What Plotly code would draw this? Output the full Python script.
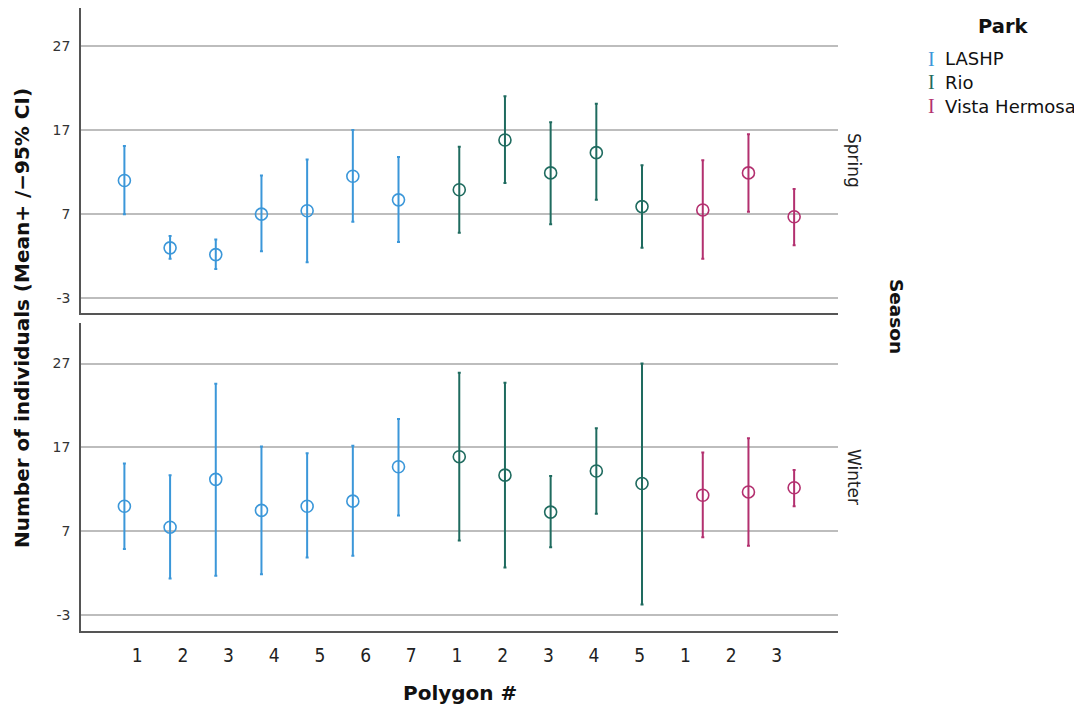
import plotly.graph_objects as go

# ---------------- data ----------------
parks = ["LASHP", "Rio", "Vista Hermosa"]
park_of_point = ["LASHP"] * 7 + ["Rio"] * 5 + ["Vista Hermosa"] * 3
polygon_labels = ["1", "2", "3", "4", "5", "6", "7",
                  "1", "2", "3", "4", "5",
                  "1", "2", "3"]

spring_mean = [11.0, 3.0, 2.2, 7.0, 7.4, 11.5, 8.7,
               9.9, 15.8, 11.9, 14.3, 7.9,
               7.5, 11.9, 6.7]
spring_low = [7.0, 1.7, 0.5, 2.6, 1.3, 6.1, 3.7,
              4.8, 10.7, 5.8, 8.7, 3.0,
              1.7, 7.3, 3.3]
spring_high = [15.1, 4.4, 4.0, 11.6, 13.5, 17.0, 13.8,
               15.0, 21.0, 17.9, 20.1, 12.8,
               13.4, 16.5, 10.0]

winter_mean = [10.0, 7.5, 13.2, 9.5, 10.0, 10.6, 14.7,
               15.9, 13.7, 9.3, 14.2, 12.7,
               11.3, 11.7, 12.2]
winter_low = [4.9, 1.4, 1.7, 1.9, 3.9, 4.1, 8.9,
              5.9, 2.7, 5.1, 9.1, -1.7,
              6.3, 5.3, 10.0]
winter_high = [15.1, 13.7, 24.6, 17.1, 16.3, 17.2, 20.4,
               25.9, 24.7, 13.6, 19.3, 27.0,
               16.4, 18.1, 14.3]

y_ticks = [-3, 7, 17, 27]
seasons = ["Spring", "Winter"]

# ---------------- style ----------------
colors = {"LASHP": "#3b97d9", "Rio": "#1f6b5f", "Vista Hermosa": "#b3306f"}
dodge = {"LASHP": -0.28, "Rio": 0.05, "Vista Hermosa": 0.38}
FONT = "DejaVu Sans"

# page has an 8px body margin; work in page pixels and convert
OFF = 8
W, H = 1074, 704
ml, mr, mt, mb = 73, 244, 0, 81
pw = W - ml - mr
ph = H - mt - mb


def px(xp):
    return (xp - OFF - ml) / pw


def py(yp):
    return (H - mb - (yp - OFF)) / ph


fig = go.Figure()

season_data = [(spring_mean, spring_low, spring_high),
               (winter_mean, winter_low, winter_high)]
axis_names = [("x", "y"), ("x2", "y2")]

for (means, lows, highs), (xa, ya) in zip(season_data, axis_names):
    for park in parks:
        idx = [i for i, p in enumerate(park_of_point) if p == park]
        xs = [i + dodge[park] for i in idx]
        ys = [means[i] for i in idx]
        up = [highs[i] - means[i] for i in idx]
        dn = [means[i] - lows[i] for i in idx]
        fig.add_trace(go.Scatter(
            x=xs, y=ys, mode="markers", name=park, showlegend=False,
            xaxis=xa, yaxis=ya,
            marker=dict(symbol="circle-open", size=12,
                        color=colors[park], line=dict(width=1.6, color=colors[park])),
            error_y=dict(type="data", symmetric=False, array=up, arrayminus=dn,
                         color=colors[park], thickness=2, width=1.5),
            hoverinfo="skip",
        ))

yaxis_common = dict(tickvals=y_ticks, ticktext=[str(v) for v in y_ticks],
                    showgrid=True, gridcolor="#bdbdbd", gridwidth=1.5,
                    zeroline=False, showline=True, linecolor="#555555", linewidth=1.5,
                    ticks="", ticklabelstandoff=6,
                    tickfont=dict(family=FONT, size=14, color="#333333"))
xaxis_common = dict(range=[-1.23, 15.34], showgrid=False, zeroline=False,
                    showline=True, linecolor="#555555", linewidth=1.5,
                    tickvals=list(range(len(polygon_labels))), ticktext=polygon_labels,
                    ticks="")

top_dom = [py(313), 1.0]
bot_dom = [0.0, py(323)]

fig.update_layout(
    xaxis=dict(**xaxis_common, anchor="y", showticklabels=False),
    yaxis=dict(**yaxis_common, domain=top_dom, anchor="x", range=[-4.73, 31.47]),
    xaxis2=dict(**xaxis_common, anchor="y2", matches="x", showticklabels=True,
                ticklabelstandoff=6,
                tickfont=dict(family="DejaVu Sans Condensed", size=19, color="#222222")),
    yaxis2=dict(**yaxis_common, domain=bot_dom, anchor="x2", range=[-4.87, 31.83]),
)

annotations = []
bold = dict(family=FONT, color="#111111", weight="bold")
# y title
annotations.append(dict(text="Number of individuals (Mean+ /\u221295% CI)", x=px(22), y=py(318),
                        xref="paper", yref="paper", xanchor="center", yanchor="middle",
                        showarrow=False, textangle=-90, font=dict(**bold, size=20)))
# x title
annotations.append(dict(text="Polygon #", x=px(460), y=py(693), xref="paper", yref="paper",
                        xanchor="center", yanchor="middle",
                        showarrow=False, font=dict(**bold, size=20)))
# facet labels
for label, yp in zip(seasons, [160, 477]):
    annotations.append(dict(text=label, x=px(854), y=py(yp), xref="paper", yref="paper",
                            xanchor="center", yanchor="middle",
                            showarrow=False, textangle=90,
                            font=dict(family=FONT, size=17, color="#222222")))
annotations.append(dict(text="Season", x=px(897), y=py(316), xref="paper", yref="paper",
                        xanchor="center", yanchor="middle",
                        showarrow=False, textangle=90, font=dict(**bold, size=18.5)))
# legend
annotations.append(dict(text="Park", x=px(1003), y=py(27), xref="paper", yref="paper",
                        xanchor="center", yanchor="middle",
                        showarrow=False, font=dict(**bold, size=19.5)))
for park, yp in zip(parks, [59, 82, 106]):
    annotations.append(dict(text="I", x=px(931), y=py(yp), xref="paper", yref="paper",
                            xanchor="center", yanchor="middle",
                            showarrow=False, font=dict(family="Liberation Serif", size=20, color=colors[park])))
    annotations.append(dict(text=park, x=px(943), y=py(yp), xref="paper", yref="paper",
                            xanchor="left", yanchor="middle", showarrow=False,
                            font=dict(family=FONT, size=18, color="#111111")))

fig.update_layout(width=W, height=H, margin=dict(l=ml, r=mr, t=mt, b=mb, pad=0),
                  plot_bgcolor="white", paper_bgcolor="white",
                  annotations=annotations, showlegend=False)

fig.write_html("out.html")
